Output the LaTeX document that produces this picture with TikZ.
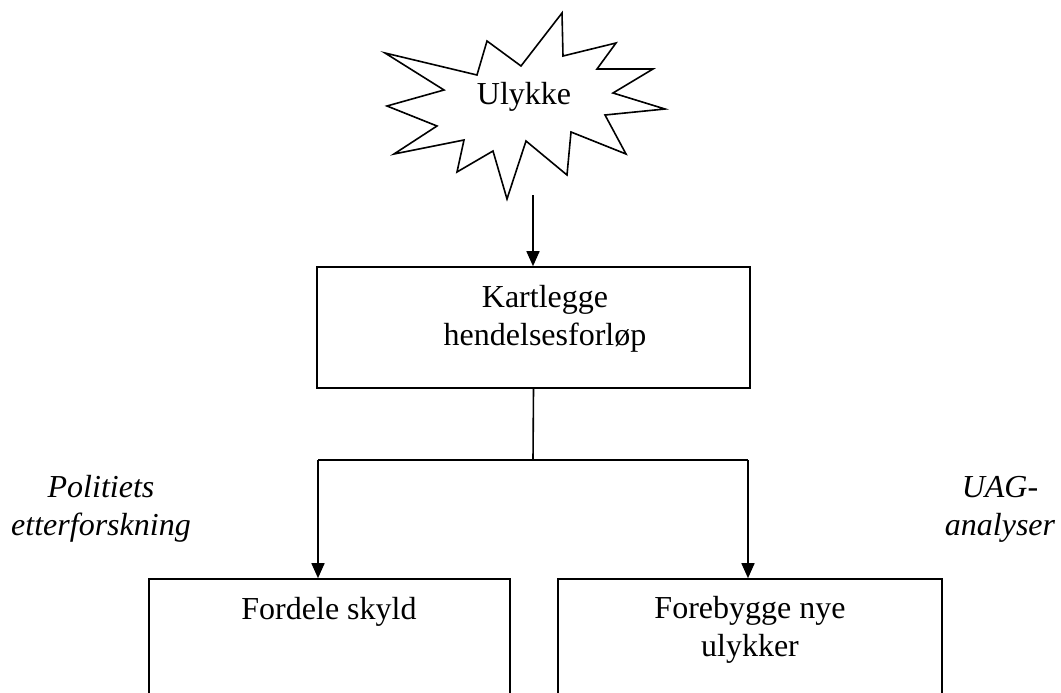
\documentclass[tikz,border=0pt]{standalone}
\usepackage{fontspec}
\setmainfont{Liberation Serif}
\usetikzlibrary{arrows.meta}
\begin{document}
\begin{tikzpicture}[x=1pt,y=-1pt,
  line width=1.6pt,
  box/.style={draw,line width=1.6pt,rectangle,inner sep=0pt},
  txt/.style={anchor=base,align=center,inner sep=0pt,font=\fontsize{32}{38}\selectfont},
  itxt/.style={txt,font=\fontsize{32}{38}\selectfont\itshape},
  arr/.style={-{Triangle[length=15pt,width=13pt]}}]
\useasboundingbox (0,0) rectangle (1061,693);
\clip (0,0) rectangle (1061,693);
% starburst
\draw[line width=1.6pt,line join=miter] (385,53) -- (477,75) -- (487,41) -- (521,66) -- (562,13) -- (563,56)
  -- (616,43) -- (597,69) -- (653,69) -- (613,93) -- (665,109) -- (605,115)
  -- (626,154) -- (571,132) -- (567,175) -- (526,141) -- (507,199) -- (493,151)
  -- (457,172) -- (464,140) -- (394,154) -- (437,126) -- (387,106) -- (444,90) -- cycle;
\node[txt] (u) at (524,105) {Ulykke};
\coordinate (us) at (533,195);
% boxes
\node[box,minimum width=433pt,minimum height=121pt] (k) at (533.5,327.5) {};
\node[txt] (kt) at (545,345) {Kartlegge\\hendelsesforløp};
\node[box,minimum width=361pt,minimum height=160pt] (fs) at (329.5,659) {};
\node[txt] (fst) at (329,619) {Fordele skyld};
\node[box,minimum width=384pt,minimum height=160pt] (fn) at (750,659) {};
\node[txt] (fnt) at (750,656) {Forebygge nye\\ulykker};
% side labels
\node[itxt] (pol) at (101,535) {Politiets\\etterforskning};
\node[itxt] (uag) at (1000,535) {UAG-\\analyser};
% connectors
\coordinate (jm) at (533,460);
\coordinate (jl) at (318,460);
\coordinate (jr) at (748,460);
\draw[arr] (us) -- (us |- k.north);
\draw (k.south) -- (jm);
\draw (jl) -- (jr);
\draw[arr] (jl) -- (jl |- fs.north);
\draw[arr] (jr) -- (jr |- fn.north);
\end{tikzpicture}
\end{document}
